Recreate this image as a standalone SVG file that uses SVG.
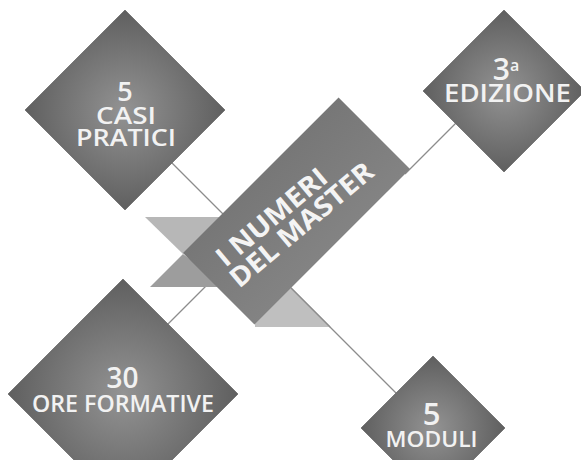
<svg xmlns="http://www.w3.org/2000/svg" width="581" height="460" viewBox="0 0 581 460">
  <defs>
    <radialGradient id="dg" cx="50%" cy="50%" r="55%">
      <stop offset="0%" stop-color="#939393"/>
      <stop offset="100%" stop-color="#5a5a5a"/>
    </radialGradient>
    <linearGradient id="rg" x1="0" y1="0" x2="0" y2="1">
      <stop offset="0%" stop-color="#777777"/>
      <stop offset="100%" stop-color="#838383"/>
    </linearGradient>
  </defs>
  <style>
    .dia { fill: url(#dg); stroke: #555555; stroke-width: 0.6; }
    .lbl { font-family: "Open Sans", "Liberation Sans", sans-serif; font-weight: 600; fill: #f2f2f2; text-anchor: middle; }
    .ttl { font-family: "Open Sans", "Liberation Sans", sans-serif; font-weight: 700; fill: #f4f4f4; font-size: 27px; }
    .conn { stroke: #8c8c8c; stroke-width: 1.3; fill: none; }
  </style>
  <rect width="581" height="460" fill="#ffffff"/>

  <g id="connectors">
    <line class="conn" x1="172" y1="163" x2="226" y2="217"/>
    <line class="conn" x1="405" y1="174" x2="455.5" y2="123.5"/>
    <line class="conn" x1="168" y1="324" x2="215" y2="277"/>
    <line class="conn" x1="280" y1="277" x2="396" y2="393"/>
  </g>

  <g id="ribbon-tails">
    <polygon points="145,217 232,217 183,254" fill="#b7b7b7"/>
    <polygon points="183,254 150,287 226,287" fill="#9d9d9d"/>
    <polygon points="291,288 330,327 255,327 255,300" fill="#bfbfbf"/>
    <line class="conn" x1="291" y1="288" x2="330" y2="327"/>
  </g>

  <g id="node-center">
    <rect x="-110" y="-50.5" width="220" height="101" transform="translate(296.5,211) rotate(-45)" fill="url(#rg)"/>
    <text class="ttl" transform="translate(296.5,211) rotate(-40)"><tspan x="-91" y="-2" textLength="136" lengthAdjust="spacingAndGlyphs">I NUMERI</tspan><tspan x="-94" y="23" textLength="178" lengthAdjust="spacingAndGlyphs">DEL MASTER</tspan></text>
  </g>

  <g id="node-casi">
    <polygon class="dia" points="125,10 225,110 125,210 25,110"/>
    <text class="lbl"><tspan x="125" y="101" font-size="27">5</tspan><tspan x="126" y="124" font-size="23" textLength="60" lengthAdjust="spacingAndGlyphs">CASI</tspan><tspan x="126" y="146" font-size="23" textLength="100" lengthAdjust="spacingAndGlyphs">PRATICI</tspan></text>
  </g>

  <g id="node-edizione">
    <polygon class="dia" points="504,10 585,91 504,172 423,91"/>
    <text class="lbl"><tspan x="506" y="80" font-size="30">3<tspan font-size="16" dy="-9">a</tspan></tspan><tspan x="507.5" y="102" font-size="26" textLength="127" lengthAdjust="spacingAndGlyphs">EDIZIONE</tspan></text>
  </g>

  <g id="node-ore">
    <polygon class="dia" points="123,279 238,394 123,509 8,394"/>
    <text class="lbl"><tspan x="122.5" y="388" font-size="28">30</tspan><tspan x="123" y="412" font-size="23" textLength="182" lengthAdjust="spacingAndGlyphs">ORE FORMATIVE</tspan></text>
  </g>

  <g id="node-moduli">
    <polygon class="dia" points="433,356 505,428 433,500 361,428"/>
    <text class="lbl"><tspan x="431.5" y="425" font-size="31">5</tspan><tspan x="431.5" y="447" font-size="21" textLength="92" lengthAdjust="spacingAndGlyphs">MODULI</tspan></text>
  </g>
</svg>
